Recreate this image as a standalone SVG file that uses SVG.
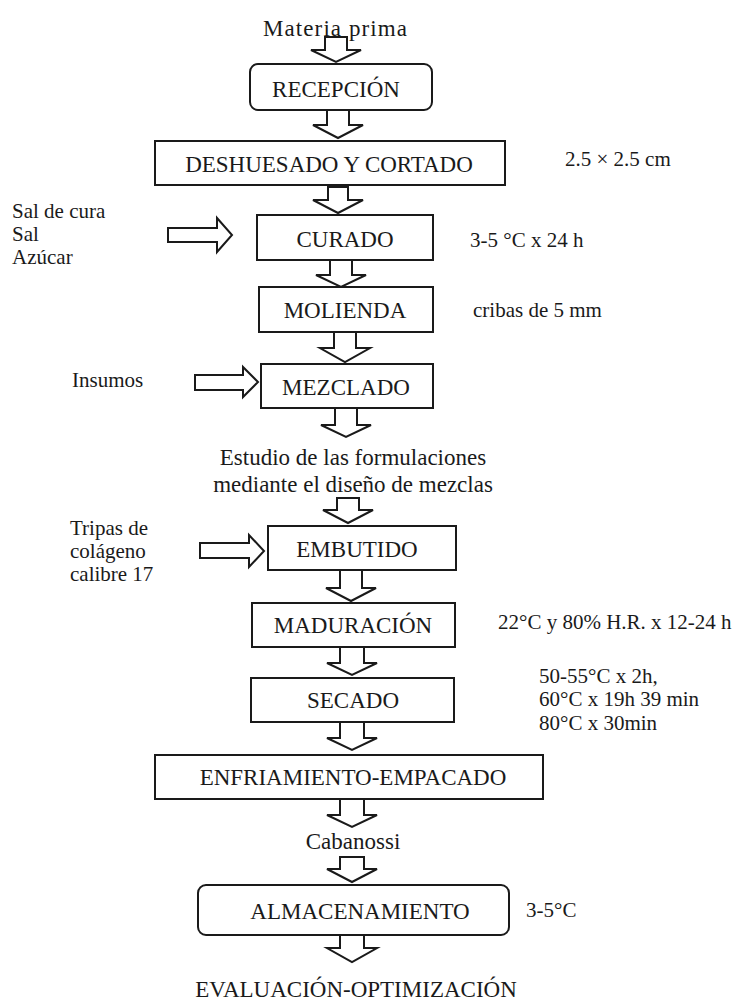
<svg xmlns="http://www.w3.org/2000/svg" width="739" height="1001" viewBox="0 0 739 1001">
<style>
text{font-family:"Liberation Serif","Times New Roman",serif;fill:#1a1a1a}
.b{font-size:23px;text-anchor:middle}
.s{font-size:21px}
.box{fill:#fff;stroke:#1a1a1a;stroke-width:2}
.arr{fill:#fff;stroke:#1a1a1a;stroke-width:2;stroke-linejoin:miter}
</style>
<rect width="739" height="1001" fill="#fff"/>
<g id="connectors">
<path class="arr" d="M325,37H347V50H361L336,62L311,50H325Z"/>
<path class="arr" d="M327,110H349V125H363L338,138L313,125H327Z"/>
<path class="arr" d="M328,187H348V200H363L338,213L313,200H328Z"/>
<path class="arr" d="M330,260H352V275H366L341,287L316,275H330Z"/>
<path class="arr" d="M334,332H356V348H370L345,362L320,348H334Z"/>
<path class="arr" d="M335,408H357V425H371L346,437L321,425H335Z"/>
<path class="arr" d="M337,498H359V510H373L348,523L323,510H337Z"/>
<path class="arr" d="M340,570H362V588H376L351,601L326,588H340Z"/>
<path class="arr" d="M340,647H364V663H377L352,675L327,663H340Z"/>
<path class="arr" d="M340,722H364V738H377L352,750L327,738H340Z"/>
<path class="arr" d="M340,799H364V815H377L352,827L327,815H340Z"/>
<path class="arr" d="M340,857H364V869H377L352,882L327,869H340Z"/>
<path class="arr" d="M340,935H364V948H377L352,962L327,948H340Z"/>
<path class="arr" d="M168,228H217V218L232,235L217,252V242H168Z"/>
<path class="arr" d="M195,375H243V367L258,382L243,397V390H195Z"/>
<path class="arr" d="M200,543H249V535L264,551L249,567V558H200Z"/>
</g>
<g id="materia"><text class="b" x="335" y="36" textLength="144" lengthAdjust="spacing">Materia prima</text></g>
<g id="recepcion"><rect class="box" x="250" y="64" width="182" height="46" rx="8"/><text class="b" x="336" y="97">RECEPCIÓN</text></g>
<g id="deshuesado"><rect class="box" x="155" y="141" width="350" height="44"/><text class="b" x="329" y="172">DESHUESADO Y CORTADO</text></g>
<g id="deshuesado-note"><text class="s" x="565" y="166">2.5 × 2.5 cm</text></g>
<g id="curado-in"><text class="s" x="12" y="218">Sal de cura</text><text class="s" x="12" y="241">Sal</text><text class="s" x="12" y="264">Azúcar</text></g>
<g id="curado"><rect class="box" x="257" y="215" width="176" height="45"/><text class="b" x="345" y="247">CURADO</text></g>
<g id="curado-note"><text class="s" x="470" y="247">3-5 °C x 24 h</text></g>
<g id="molienda"><rect class="box" x="259" y="287" width="174" height="45"/><text class="b" x="345" y="318">MOLIENDA</text></g>
<g id="molienda-note"><text class="s" x="473" y="317">cribas de 5 mm</text></g>
<g id="insumos"><text class="s" x="72" y="387">Insumos</text></g>
<g id="mezclado"><rect class="box" x="261" y="364" width="172" height="44"/><text class="b" x="346" y="395">MEZCLADO</text></g>
<g id="estudio"><text class="b" x="353" y="465">Estudio de las formulaciones</text><text class="b" x="353" y="492">mediante el diseño de mezclas</text></g>
<g id="tripas"><text class="s" x="70" y="535">Tripas de</text><text class="s" x="70" y="558">colágeno</text><text class="s" x="70" y="581">calibre 17</text></g>
<g id="embutido"><rect class="box" x="268" y="526" width="188" height="44"/><text class="b" x="357" y="557">EMBUTIDO</text></g>
<g id="maduracion"><rect class="box" x="252" y="603" width="203" height="44"/><text class="b" x="353" y="633">MADURACIÓN</text></g>
<g id="maduracion-note"><text class="s" x="498" y="629">22°C y 80% H.R. x 12-24 h</text></g>
<g id="secado"><rect class="box" x="251" y="678" width="203" height="44"/><text class="b" x="353" y="708">SECADO</text></g>
<g id="secado-note"><text class="s" x="539" y="683">50-55°C x 2h,</text><text class="s" x="539" y="706">60°C x 19h 39 min</text><text class="s" x="539" y="730">80°C x 30min</text></g>
<g id="enfriamiento"><rect class="box" x="155" y="755" width="388" height="44"/><text class="b" x="353" y="785">ENFRIAMIENTO-EMPACADO</text></g>
<g id="cabanossi"><text class="b" x="353" y="849">Cabanossi</text></g>
<g id="almacenamiento"><rect class="box" x="198" y="885" width="311" height="50" rx="8"/><text class="b" x="360" y="919">ALMACENAMIENTO</text></g>
<g id="almacenamiento-note"><text class="s" x="526" y="917">3-5°C</text></g>
<g id="evaluacion"><text class="b" x="356" y="997">EVALUACIÓN-OPTIMIZACIÓN</text></g>
</svg>
